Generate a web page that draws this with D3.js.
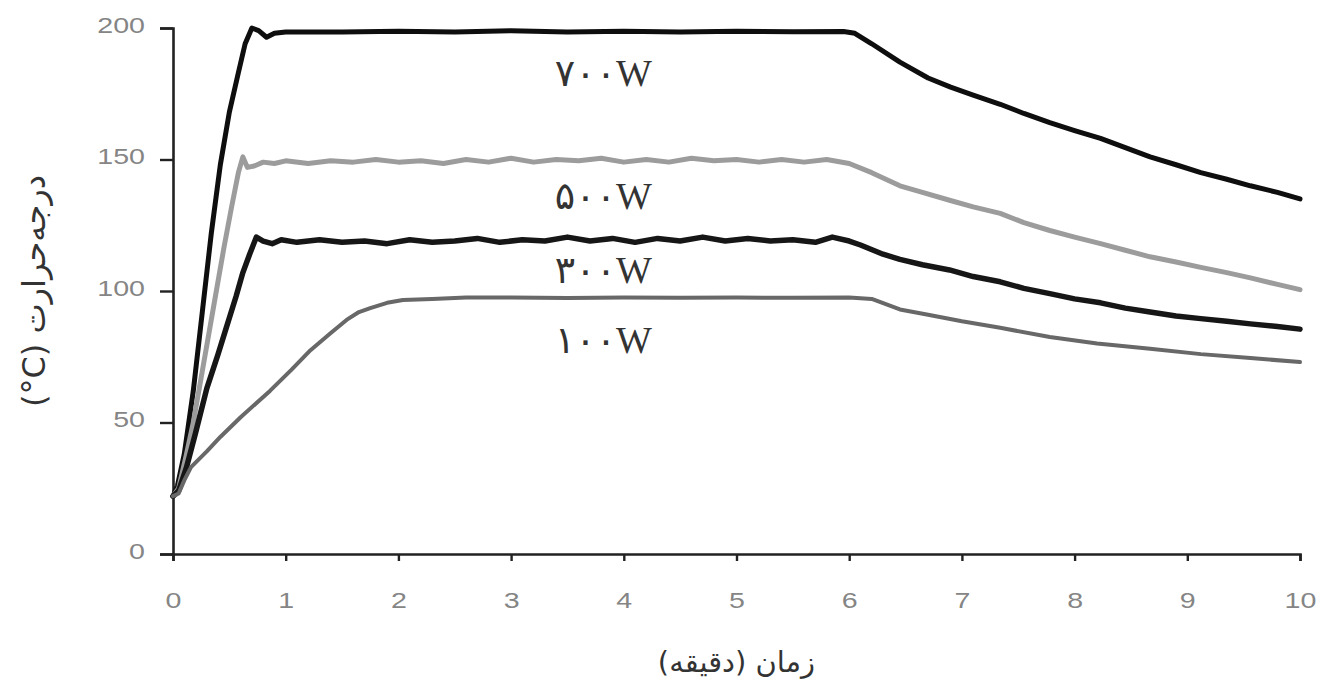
<!DOCTYPE html>
<html>
<head>
<meta charset="utf-8">
<script src="https://cdn.jsdelivr.net/npm/d3@7"></script>
<style>
  body { margin: 0; background: #fff; }
  svg { display: block; }
</style>
</head>
<body>
<svg id="chart" width="1321" height="681"></svg>
<script>
// Data: [minutes, °C]
const s700 = [[0,22],[0.04,26],[0.1,38],[0.18,62],[0.26,92],[0.34,122],[0.42,148],[0.5,168],[0.58,183],[0.64,194],
  [0.7,200],[0.76,199],[0.83,196.5],[0.9,198],[1.0,198.5],[1.5,198.5],[2.0,198.8],[2.5,198.5],[3.0,199],[3.5,198.5],
  [4.0,198.8],[4.5,198.5],[5.0,198.8],[5.5,198.6],[5.95,198.7],[6.05,198],[6.2,194],[6.45,187],[6.7,181],[6.9,177.5],
  [7.1,174.5],[7.34,171],[7.55,167.5],[7.78,164],[8.0,161],[8.23,158],[8.45,154.5],[8.67,151],[8.9,148],[9.12,145],
  [9.35,142.5],[9.56,140],[9.8,137.5],[10,135]]

const s500 = [[0,22],[0.05,25],[0.12,38],[0.18,50],[0.27,72],[0.36,94],[0.45,116],[0.52,132],[0.58,145],[0.62,151],
  [0.66,147],[0.72,147.5],[0.8,149],[0.9,148.5],[1.0,149.5],[1.2,148.5],[1.4,149.5],[1.6,149],[1.8,150],[2.0,149],
  [2.2,149.5],[2.4,148.5],[2.6,150],[2.8,149],[3.0,150.5],[3.2,149],[3.4,150],[3.6,149.5],[3.8,150.5],[4.0,149],
  [4.2,150],[4.4,149],[4.6,150.5],[4.8,149.5],[5.0,150],[5.2,149],[5.4,150],[5.6,149],[5.8,150],[6.0,148.5],
  [6.2,145],[6.45,140],[6.65,137.5],[6.89,134.5],[7.1,132],[7.34,129.5],[7.55,126],[7.78,123],[8.0,120.5],[8.23,118],
  [8.45,115.5],[8.67,113],[8.9,111],[9.12,109],[9.35,107],[9.56,105],[9.8,102.5],[10,100.5]]

const s300 = [[0,22],[0.05,24],[0.12,33],[0.2,46],[0.3,63],[0.4,76],[0.48,87],[0.56,98],[0.62,107],[0.68,114],
  [0.74,120.5],[0.8,119],[0.88,118],[0.96,119.5],[1.1,118.5],[1.3,119.5],[1.5,118.5],[1.7,119],[1.9,118],[2.1,119.5],
  [2.3,118.5],[2.5,119],[2.7,120],[2.9,118.5],[3.1,119.5],[3.3,119],[3.5,120.5],[3.7,119],[3.9,120],[4.1,118.5],
  [4.3,120],[4.5,119],[4.7,120.5],[4.9,119],[5.1,120],[5.3,119],[5.5,119.5],[5.7,118.5],[5.85,120.5],[6.0,119],
  [6.1,117.5],[6.3,114],[6.45,112],[6.65,110],[6.89,108],[7.1,105.5],[7.34,103.5],[7.55,101],[7.78,99],[8.0,97],
  [8.23,95.5],[8.45,93.5],[8.67,92],[8.9,90.5],[9.12,89.5],[9.35,88.5],[9.56,87.5],[9.8,86.5],[10,85.5]]

const s100 = [[0,22],[0.05,23],[0.1,28],[0.16,33],[0.3,39],[0.42,44.5],[0.6,52],[0.86,62],[1.05,70],[1.22,77.5],
  [1.4,84],[1.54,89],[1.65,92],[1.75,93.5],[1.9,95.5],[2.04,96.6],[2.3,97],[2.6,97.5],[3.0,97.5],[3.5,97.3],
  [4.0,97.5],[4.5,97.4],[5.0,97.5],[5.5,97.4],[6.0,97.5],[6.2,97],[6.45,93],[6.7,91],[7.0,88.5],[7.34,86],
  [7.78,82.5],[8.2,80],[8.67,78],[9.12,76],[9.56,74.5],[10,73]]

const seriesNames = ["۷۰۰W", "۵۰۰W", "۳۰۰W", "۱۰۰W"]
const seriesData = [s700, s500, s300, s100]
const labelAnchor = [[4.25, 178], [4.25, 131], [4.25, 103], [4.25, 76.5]]   // end of text, baseline (data units)
const xTicks = [0, 1, 2, 3, 4, 5, 6, 7, 8, 9, 10]
const yTicks = [0, 50, 100, 150, 200]
const xTitle = "زمان (دقیقه)"
const yTitle = "(°C) درجه‌حرارت"   // drawn left to right, so (°C) ends up at the bottom

// Layout
const svg = d3.select("#chart")
const margin = {top: 28, right: 21, bottom: 127, left: 173}
const width = 1321 - margin.left - margin.right
const height = 681 - margin.top - margin.bottom
const colors = ["#0e0e0e", "#9c9c9c", "#161616", "#686868"]
const widths = [5, 5, 5.5, 4]
const stretch = 1.3   // the picture is wider than tall, text is stretched

const x = d3.scaleLinear().domain([0, 10]).range([0, width])
const y = d3.scaleLinear().domain([0, 200]).range([height, 0])

const g = svg.append("g").attr("transform", `translate(${margin.left},${margin.top})`)

// axes
const xAxis = g.append("g")
  .attr("transform", `translate(0,${height})`)
  .call(d3.axisBottom(x).tickValues(xTicks).tickSize(7).tickSizeOuter(7).tickPadding(31))
const yAxis = g.append("g")
  .call(d3.axisLeft(y).tickValues(yTicks).tickSize(13).tickSizeOuter(13))

for (let ax of [xAxis, yAxis]) {
  ax.select(".domain").attr("stroke", "#222").attr("stroke-width", 2.6)
  ax.selectAll(".tick line").attr("stroke", "#222").attr("stroke-width", 2.4)
  ax.selectAll(".tick text")
    .attr("fill", "#858585")
    .attr("transform", `scale(${stretch},1)`)
    .style("font-family", "'Liberation Sans', Arial, sans-serif")
    .style("font-size", "22px")
}
yAxis.selectAll(".tick text").attr("x", -28 / stretch).attr("dy", "0.2em")

// lines
let line = d3.line().x(d => x(d[0])).y(d => y(d[1]))

g.selectAll("path.series")
  .data(seriesData)
  .enter()
    .append("path")
    .attr("class", "series")
    .attr("d", line)
    .attr("fill", "none")
    .attr("stroke", (d, i) => colors[i])
    .attr("stroke-width", (d, i) => widths[i])
    .attr("stroke-linejoin", "round")
    .attr("stroke-linecap", "round")

// series labels
g.selectAll("text.lbl")
  .data(seriesNames)
  .enter()
    .append("text")
    .attr("class", "lbl")
    .attr("x", (d, i) => x(labelAnchor[i][0]))
    .attr("y", (d, i) => y(labelAnchor[i][1]))
    .attr("text-anchor", "end")
    .attr("fill", "#333")
    .style("font-family", "'Liberation Serif', 'DejaVu Sans', serif")
    .style("font-size", "38px")
    .text(d => d)

// titles
svg.append("text")
  .attr("x", margin.left + x(5))
  .attr("y", 672)
  .attr("text-anchor", "middle")
  .attr("direction", "rtl")
  .attr("fill", "#333")
  .style("font-family", "'DejaVu Sans', sans-serif")
  .style("font-size", "29px")
  .text(xTitle)

svg.append("text")
  .attr("transform", `translate(34,${margin.top + y(100)}) rotate(-90)`)
  .attr("text-anchor", "middle")
  .attr("dominant-baseline", "central")
  .attr("fill", "#333")
  .style("font-family", "'DejaVu Sans', sans-serif")
  .style("font-size", "32px")
  .text(yTitle)
</script>
</body>
</html>
